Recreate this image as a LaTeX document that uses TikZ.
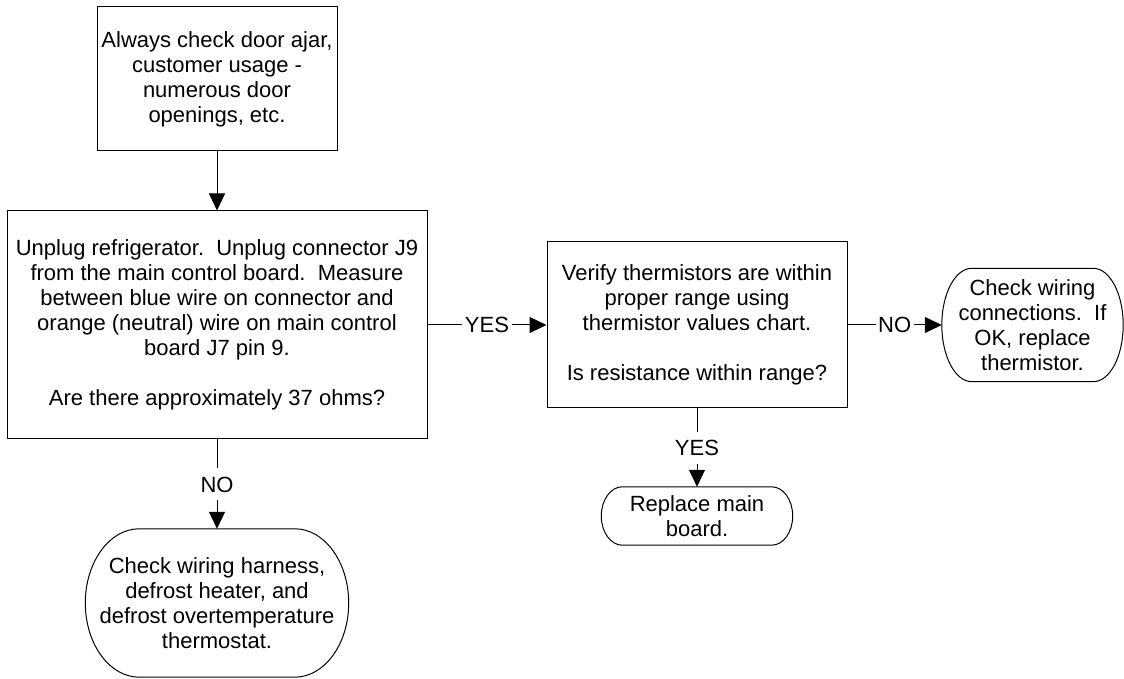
\documentclass[tikz,border=0pt]{standalone}
\usepackage{fontspec}
\setmainfont{Liberation Sans}
\usetikzlibrary{arrows.meta,calc}
\tikzset{
  every node/.style={font=\fontsize{22}{25}\selectfont},
  procbox/.style={draw, line width=1pt, rectangle, align=center, inner sep=0pt},
  termbox/.style={rectangle, align=center, inner sep=0pt},
  conn/.style={line width=1pt, -{Triangle[length=17pt,width=16pt]}},
  lab/.style={fill=white, inner xsep=2.5pt, inner ysep=8pt, text height=16pt, text depth=0pt},
}
\newcommand\termshape[2]{%
  \draw[line width=1pt] let \p1=(#1.north west), \p2=(#1.south east), \n1={(\y1-\y2)/2} in
    (\x1+#2,\y1) -- (\x2-#2,\y1)
    arc[start angle=90, end angle=-90, x radius=#2, y radius=\n1]
    -- (\x1+#2,\y2)
    arc[start angle=270, end angle=90, x radius=#2, y radius=\n1] -- cycle;}
\begin{document}
\begin{tikzpicture}[x=1pt,y=1pt]
\useasboundingbox (0,0) rectangle (1124,679);
\node[procbox, minimum width=240pt, minimum height=144pt] (top) at (217,600)
  {Always check door ajar,\\customer usage -\\numerous door\\openings, etc.};
\node[procbox, minimum width=420pt, minimum height=228pt] (big) at (217,354)
  {Unplug refrigerator.\ \ Unplug connector J9\\from the main control board.\ \ Measure\\between blue wire on connector and\\orange (neutral) wire on main control\\board J7 pin 9.\\[25pt]Are there approximately 37 ohms?};
\node[procbox, minimum width=300pt, minimum height=166pt] (mid) at (697,354)
  {Verify thermistors are within\\proper range using\\thermistor values chart.\\[25pt]Is resistance within range?};
\node[termbox, minimum width=181pt, minimum height=113pt] (t1) at (1032.5,354)
  {Check wiring\\connections.\ \ If\\OK, replace\\thermistor.};
\node[termbox, minimum width=191pt, minimum height=58pt] (t2) at (697,163)
  {Replace main\\board.};
\node[termbox, minimum width=263pt, minimum height=148pt] (t3) at (217,76)
  {Check wiring harness,\\defrost heater, and\\defrost overtemperature\\thermostat.};
\termshape{t1}{30pt}
\termshape{t2}{21pt}
\termshape{t3}{54pt}
\draw[conn] (top.south) -- (big.north);
\draw[conn] (big.east) -- node[lab]{YES} (mid.west);
\draw[conn] (mid.east) -- node[lab]{NO} (t1.west);
\draw[conn] (big.south) -- node[lab]{NO} (t3.north);
\draw[conn] (mid.south) -- node[lab]{YES} (t2.north);
\end{tikzpicture}
\end{document}
